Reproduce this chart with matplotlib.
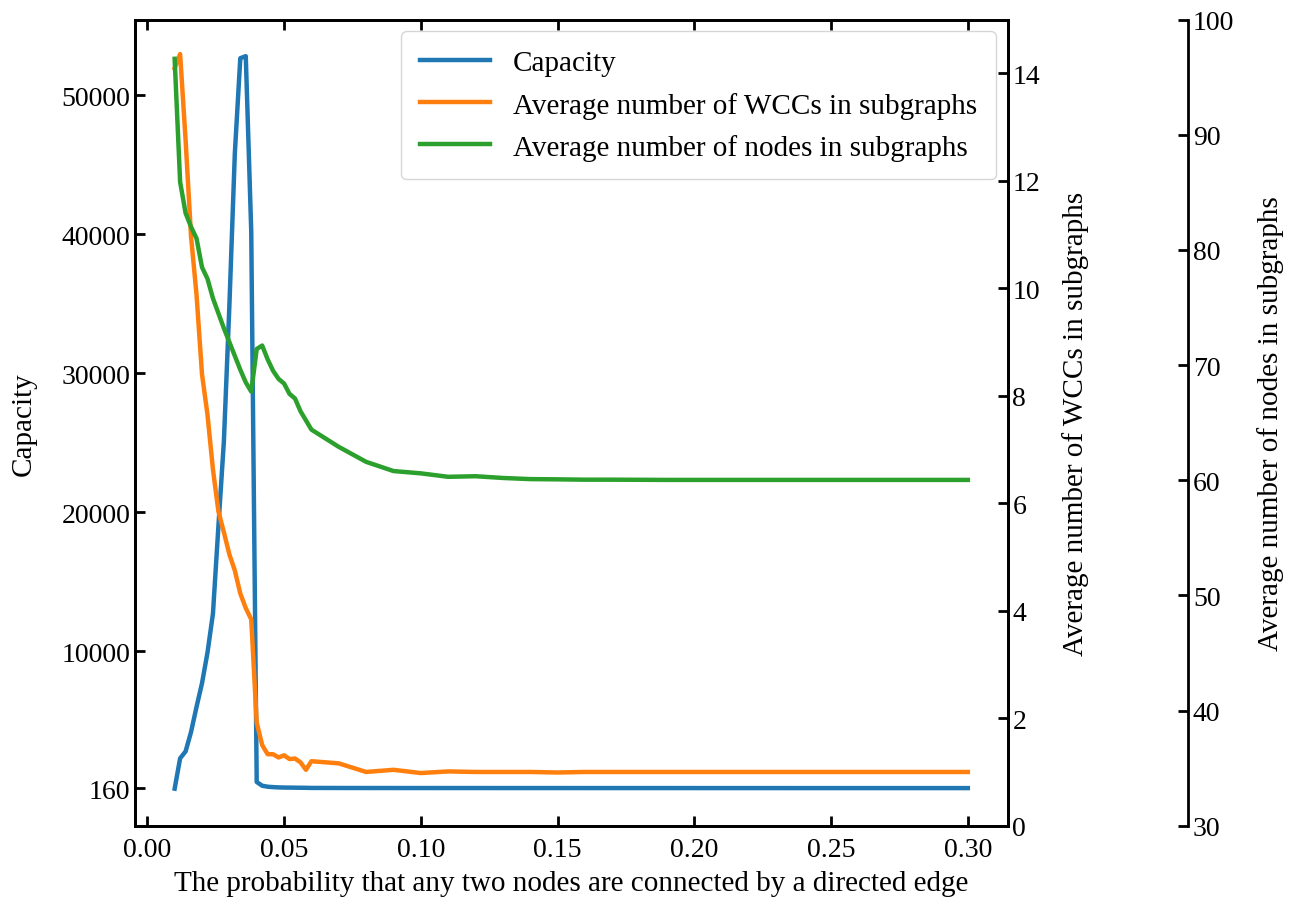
import matplotlib
matplotlib.use("Agg")
import matplotlib.pyplot as plt

plt.rcParams['font.family'] = ['Liberation Serif', 'DejaVu Serif']
plt.rcParams['font.size'] = 20
plt.rcParams['xtick.direction'] = 'in'
plt.rcParams['ytick.direction'] = 'in'
plt.rcParams['axes.linewidth'] = 2
plt.rcParams['xtick.major.width'] = 2
plt.rcParams['ytick.major.width'] = 2
plt.rcParams['xtick.major.size'] = 7.5
plt.rcParams['ytick.major.size'] = 7.5
plt.rcParams['xtick.major.pad'] = 8

# ── data ──────────────────────────────────────────────────────
probs = [0.010, 0.012, 0.014, 0.016, 0.018, 0.020, 0.022, 0.024, 0.026, 0.028,
         0.030, 0.032, 0.034, 0.036, 0.038, 0.040, 0.042, 0.044, 0.046, 0.048,
         0.050, 0.052, 0.054, 0.056, 0.058, 0.060,
         0.07, 0.08, 0.09, 0.10, 0.11, 0.12, 0.13, 0.14, 0.15, 0.16, 0.17,
         0.18, 0.19, 0.20, 0.21, 0.22, 0.23, 0.24, 0.25, 0.26, 0.27, 0.28,
         0.29, 0.30]

capacity = [120, 2300, 2800, 4200, 6000, 7700, 9900, 12700, 19000, 25100,
            34800, 45800, 52650, 52800, 40200, 600, 330, 260, 230, 210,
            200, 195, 190, 185, 180, 172,
            168, 166, 165, 165, 164, 164, 163, 163, 163, 162, 162,
            162, 162, 161, 161, 161, 161, 160, 160, 160, 160, 160,
            160, 160]

avg_wccs = [14.10, 14.36, 12.76, 10.96, 9.88, 8.40, 7.65, 6.63, 5.85, 5.46,
            5.05, 4.75, 4.32, 4.05, 3.84, 1.92, 1.50, 1.33, 1.33, 1.27,
            1.31, 1.24, 1.25, 1.18, 1.04, 1.20,
            1.16, 1.00, 1.04, 0.98, 1.01, 1.00, 1.00, 1.00, 0.99, 1.00, 1.00,
            1.00, 1.00, 1.00, 1.00, 1.00, 1.00, 1.00, 1.00, 1.00, 1.00, 1.00,
            1.00, 1.00]

avg_nodes = [96.6, 85.9, 83.2, 82.0, 81.0, 78.5, 77.5, 75.8, 74.5, 73.2,
             72.0, 70.8, 69.6, 68.5, 67.7, 71.4, 71.7, 70.5, 69.5, 68.8,
             68.4, 67.5, 67.1, 66.0, 65.2, 64.4,
             62.9, 61.6, 60.8, 60.6, 60.3, 60.35, 60.2, 60.1, 60.08, 60.05, 60.05,
             60.04, 60.03, 60.03, 60.03, 60.03, 60.03, 60.03, 60.03, 60.03, 60.03, 60.03,
             60.03, 60.03]

cap_ticks = [160, 10000, 20000, 30000, 40000, 50000]

# ── figure ────────────────────────────────────────────────────
fig = plt.figure(figsize=(12.98, 9.03), dpi=100)
ax = fig.add_axes([0.104, 0.0845, 0.6722, 0.8926])
par1 = ax.twinx()
par2 = ax.twinx()

par2.spines["right"].set_position(("axes", 1.207))
for side in ("top", "left", "bottom"):
    par2.spines[side].set_visible(False)

l1, = ax.plot(probs, capacity, color="#1f77b4", lw=3.2, label="Capacity")
l2, = par1.plot(probs, avg_wccs, color="#ff7f0e", lw=3.2,
                label="Average number of WCCs in subgraphs")
l3, = par2.plot(probs, avg_nodes, color="#2ca02c", lw=3.2,
                label="Average number of nodes in subgraphs")

ax.set_xlim(-0.0045, 0.3145)
ax.set_ylim(-2544, 55423)
par1.set_ylim(0, 15)
par2.set_ylim(30, 100)

ax.set_yticks(cap_ticks)
ax.set_xticks([0.00, 0.05, 0.10, 0.15, 0.20, 0.25, 0.30])
ax.set_xticklabels(["0.00", "0.05", "0.10", "0.15", "0.20", "0.25", "0.30"])
ax.tick_params(axis="x", top=True)
par1.set_yticks([0, 2, 4, 6, 8, 10, 12, 14])
par2.set_yticks([30, 40, 50, 60, 70, 80, 90, 100])

ax.set_xlabel("The probability that any two nodes are connected by a directed edge",
              fontsize=21, labelpad=6)
ax.set_ylabel("Capacity", fontsize=21, labelpad=18)
par1.set_ylabel("Average number of WCCs in subgraphs", fontsize=21, labelpad=16)
par2.set_ylabel("Average number of nodes in subgraphs", fontsize=21, labelpad=16)

par2.legend(handles=[l1, l2, l3], loc="upper right", fontsize=21,
            handlelength=2.4, borderaxespad=0.4, labelspacing=0.52,
            borderpad=0.64)

fig.savefig("out.png", dpi=100)
